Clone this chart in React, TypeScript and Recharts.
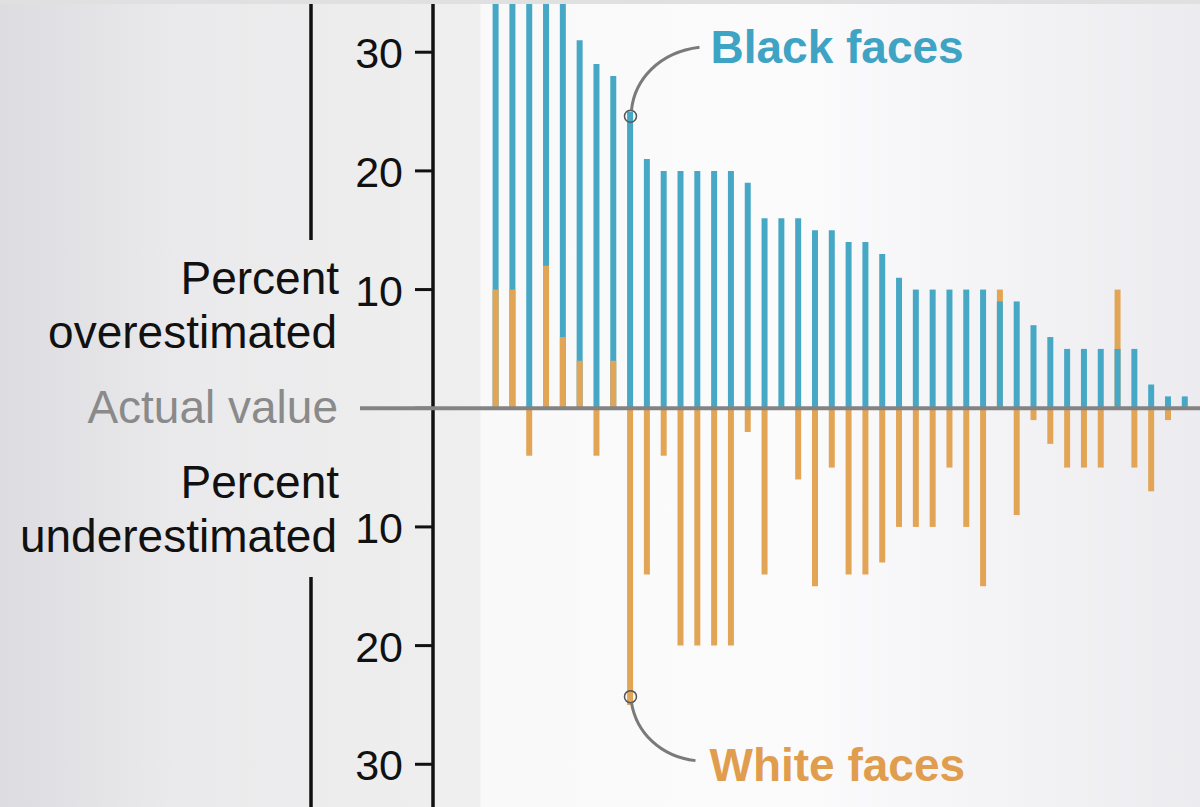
import React from "react";
import {
  ComposedChart, Bar, Cell, XAxis, YAxis, ReferenceLine, ReferenceDot, Customized,
} from "recharts";

const BLUE = "#47a8c5";
const ORANGE = "#e2a556";
const INK = "#111111";
const GRAY = "#838383";
const FONT = "'Liberation Sans', Arial, Helvetica, sans-serif";

// one entry per face in the study, sorted by how much black faces were overestimated
const faces = [
  "1", "2", "3", "4", "5", "6", "7", "8", "9", "10", "11", "12", "13", "14",
  "15", "16", "17", "18", "19", "20", "21", "22", "23", "24", "25", "26", "27", "28",
  "29", "30", "31", "32", "33", "34", "35", "36", "37", "38", "39", "40", "41", "42",
];
// percent over (+) / under (-) the actual value
const blackFaces = [
  36, 36, 36, 36, 36, 31, 29, 28, 25, 21, 20, 20, 20, 20,
  20, 19, 16, 16, 16, 15, 15, 14, 14, 13, 11, 10, 10, 10,
  10, 10, 9, 9, 7, 6, 5, 5, 5, 5, 5, 2, 1, 1,
];
const whiteFaces = [
  10, 10, -4, 12, 6, 4, -4, 4, -25, -14, -4, -20, -20, -20,
  -20, -2, -14, 0, -6, -15, -5, -14, -14, -13, -10, -10, -10, -5,
  -10, -15, 10, -9, -1, -3, -5, -5, -5, 10, -5, -7, -1, 0,
];
const yTicks = [-30, -20, -10, 0, 10, 20, 30];
const yDomain = [-33.6, 34.4];

// where the two callouts attach
const blackNote = { face: "9", value: 24.6 };
const whiteNote = { face: "9", value: -24.3 };

// the two series overlap at each face: longer bar behind, shorter in front
const rows = faces.map((face, i) => {
  const b = blackFaces[i];
  const w = whiteFaces[i];
  const whiteLonger = w > b;
  return {
    face,
    back: whiteLonger ? w : b,
    backColor: whiteLonger ? ORANGE : BLUE,
    front: whiteLonger ? b : w,
    frontColor: whiteLonger ? BLUE : ORANGE,
  };
});

function YTick({ x, y, payload }: any) {
  const v = payload.value;
  if (v === 0) {
    return (
      <g>
        <line x1={360} x2={x + 32} y1={y} y2={y} stroke={GRAY} strokeWidth={4} />
        <text x={338} y={y + 15} textAnchor="end" fontSize={46} fill="#8a8a8a" fontFamily={FONT}>
          Actual value
        </text>
      </g>
    );
  }
  return (
    <text x={x} y={y + 16} textAnchor="end" fontSize={43} fill={INK} fontFamily={FONT}>
      {Math.abs(v)}
    </text>
  );
}

function SideLabels() {
  return (
    <g fontFamily={FONT} fontSize={46} fill={INK}>
      <line x1={311} x2={311} y1={4} y2={240} stroke={INK} strokeWidth={3.5} />
      <line x1={311} x2={311} y1={577} y2={807} stroke={INK} strokeWidth={3.5} />
      <text x={339} y={294} textAnchor="end">Percent</text>
      <text x={337} y={348} textAnchor="end">overestimated</text>
      <text x={339} y={498} textAnchor="end">Percent</text>
      <text x={337} y={552} textAnchor="end">underestimated</text>
    </g>
  );
}

function BlackCallout({ viewBox }: any) {
  const cx = viewBox.x + viewBox.width / 2;
  const cy = viewBox.y + viewBox.height / 2;
  return (
    <g>
      <path d={`M${cx + 1},${cy - 6} C${cx + 4},${cy - 36} ${cx + 28},${cy - 64} ${cx + 69},${cy - 69}`}
            stroke="#7a7a7a" strokeWidth={3} fill="none" />
      <text x={cx + 80} y={cy - 53} fontSize={46} fontWeight="bold" fill="#3fa3c4" fontFamily={FONT}>
        Black faces
      </text>
    </g>
  );
}

function WhiteCallout({ viewBox }: any) {
  const cx = viewBox.x + viewBox.width / 2;
  const cy = viewBox.y + viewBox.height / 2;
  return (
    <g>
      <path d={`M${cx + 1},${cy + 6} C${cx + 6},${cy + 36} ${cx + 30},${cy + 60} ${cx + 65},${cy + 64}`}
            stroke="#7a7a7a" strokeWidth={3} fill="none" />
      <text x={cx + 79} y={cy + 84} fontSize={46} fontWeight="bold" fill="#e09d4e" fontFamily={FONT}>
        White faces
      </text>
    </g>
  );
}

export default function App() {
  return (
    <div style={{
      position: "absolute", left: 0, top: 0, width: 1200, height: 807, overflow: "hidden",
      fontFamily: FONT,
      background: "linear-gradient(90deg, #dcdce1 0px, #eaeaec 180px, #efefef 480px, #f9f9fa 481px, #fbfbfc 800px, #ececf0 1200px)",
    }}>
      <ComposedChart width={1200} height={807} data={rows}
                     margin={{ top: 0, right: 0, bottom: 0, left: 0 }}>
        <XAxis xAxisId="back" dataKey="face" type="category" hide padding={{ left: 54.6, right: 6.4 }} />
        <XAxis xAxisId="front" dataKey="face" type="category" hide padding={{ left: 54.6, right: 6.4 }} />
        <YAxis type="number" domain={yDomain} allowDataOverflow ticks={yTicks} interval={0}
               width={433} tickSize={18} tickMargin={12}
               axisLine={{ stroke: INK, strokeWidth: 3.5 }}
               tickLine={{ stroke: INK, strokeWidth: 3 }}
               tick={<YTick />} />
        <Bar xAxisId="back" dataKey="back" barSize={6} isAnimationActive={false}>
          {rows.map((r, i) => <Cell key={i} fill={r.backColor} />)}
        </Bar>
        <Bar xAxisId="front" dataKey="front" barSize={6} isAnimationActive={false}>
          {rows.map((r, i) => <Cell key={i} fill={r.frontColor} />)}
        </Bar>
        <ReferenceLine xAxisId="back" y={0} stroke={GRAY} strokeWidth={4} />
        <ReferenceDot xAxisId="back" x={blackNote.face} y={blackNote.value} r={6}
                      fill="none" stroke="#555" strokeWidth={1.5} label={<BlackCallout />} />
        <ReferenceDot xAxisId="back" x={whiteNote.face} y={whiteNote.value} r={6}
                      fill="none" stroke="#555" strokeWidth={1.5} label={<WhiteCallout />} />
        <Customized component={SideLabels} />
      </ComposedChart>
      <div style={{ position: "absolute", left: 0, top: 0, width: 1200, height: 4, background: "#e0e0e0" }} />
    </div>
  );
}
